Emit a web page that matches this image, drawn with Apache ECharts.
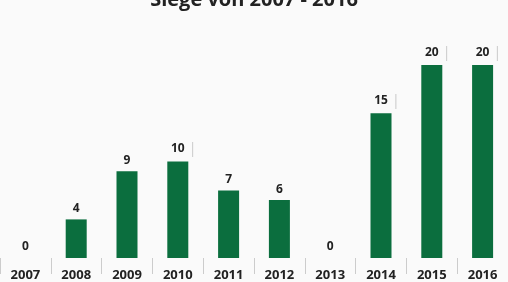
<!DOCTYPE html>
<html><head><meta charset="utf-8">
<script src="https://cdn.jsdelivr.net/npm/echarts@6/dist/echarts.min.js"></script>
<style>html,body{margin:0;padding:0;background:#fafafa}#c{width:508px;height:282px}</style>
</head><body><div id="c"></div>
<script>
const titleText = 'Siege von 2007 - 2016';
const years = ['2007','2008','2009','2010','2011','2012','2013','2014','2015','2016'];
const wins = [0,4,9,10,7,6,0,15,20,20];

const chart = echarts.init(document.getElementById('c'), null, {renderer:'canvas'});
chart.setOption({
  backgroundColor: '#fafafa',
  animation: false,
  title: {text: titleText, left: 'center', top: -15,
    textStyle: {fontFamily: 'Open Sans', fontWeight: 'bold', fontSize: 20, color: '#222'}},
  grid: {left: -1.5, right: -1.5, top: 65, bottom: 24, containLabel: false},
  xAxis: {type: 'category', data: years, offset: 6,
    axisLine: {show: false},
    axisTick: {show: true, length: 16, lineStyle: {color: '#ccc'}},
    axisLabel: {margin: 5, fontFamily: 'Open Sans', fontWeight: 'bold', fontSize: 13, color: '#222'}},
  yAxis: {type: 'value', min: 0, max: 20, show: false, splitLine: {show: false}},
  series: [{type: 'bar', data: wins, barWidth: 21,
    itemStyle: {color: '#0b6e3e'},
    label: {show: true, position: 'top', distance: 5,
      formatter: p => p.value >= 10 ? '{h| |}{v|' + p.value + '}{s| |}' : '{v|' + p.value + '}',
      rich: {
        v: {fontFamily: 'Open Sans', fontWeight: 'bold', fontSize: 12, color: '#222'},
        s: {fontFamily: 'Open Sans', fontSize: 15, color: '#ccc'},
        h: {fontFamily: 'Open Sans', fontSize: 15, color: 'rgba(0,0,0,0)'}
      }}}]
});
</script></body></html>
